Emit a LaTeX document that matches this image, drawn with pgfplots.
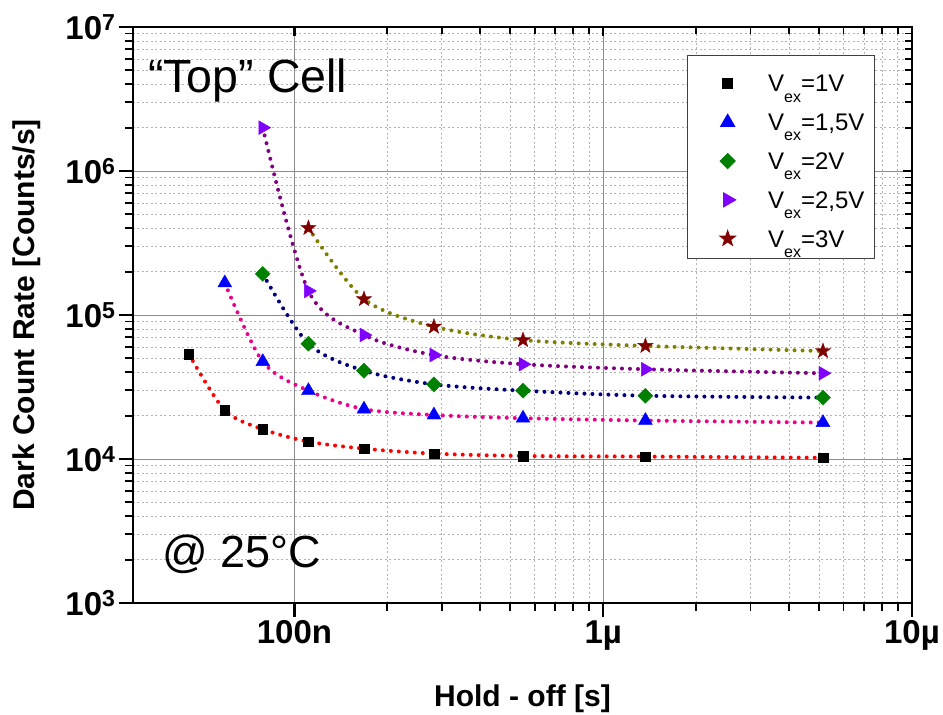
\documentclass[border=0pt]{standalone}
\usepackage{fontspec}
\setmainfont{Liberation Sans}
\usepackage{pgfplots}
\usepackage{pgfplotstable}
\pgfplotsset{compat=1.18}

\definecolor{cgreen}{HTML}{008000}
\definecolor{cvio}{HTML}{8000FF}
\definecolor{cdred}{HTML}{800000}
\definecolor{cnavy}{HTML}{000080}
\definecolor{cpurp}{HTML}{800080}
\definecolor{colive}{HTML}{808000}

\pgfdeclareplotmark{fstar}{%
  \pgfpathmoveto{\pgfpointpolar{90}{\pgfplotmarksize}}%
  \pgfpathlineto{\pgfpointpolar{126}{0.4\pgfplotmarksize}}%
  \pgfpathlineto{\pgfpointpolar{162}{\pgfplotmarksize}}%
  \pgfpathlineto{\pgfpointpolar{198}{0.4\pgfplotmarksize}}%
  \pgfpathlineto{\pgfpointpolar{234}{\pgfplotmarksize}}%
  \pgfpathlineto{\pgfpointpolar{270}{0.4\pgfplotmarksize}}%
  \pgfpathlineto{\pgfpointpolar{306}{\pgfplotmarksize}}%
  \pgfpathlineto{\pgfpointpolar{342}{0.4\pgfplotmarksize}}%
  \pgfpathlineto{\pgfpointpolar{18}{\pgfplotmarksize}}%
  \pgfpathlineto{\pgfpointpolar{54}{0.4\pgfplotmarksize}}%
  \pgfpathclose
  \pgfusepathqfillstroke
}

\newcommand{\Vex}[2]{\rule{0pt}{#1}V\raisebox{-0.42em}{\fontsize{16}{16}\selectfont ex}=#2}

\pgfplotsset{mylegend/.style={legend image code/.code={\path (0pt,0pt) (70pt,8.5pt); \draw[mark repeat=2,mark phase=2,##1] plot coordinates {(0pt,8.5pt)(30pt,8.5pt)(70pt,8.5pt)};}}}

\pgfplotstableread{
x y
4.55e-8 53600
5.95e-8 21800
7.9e-8 16100
1.11e-7 13200
1.68e-7 11800
2.83e-7 10900
5.5e-7 10500
1.37e-6 10400
5.15e-6 10200
}\dataA
\pgfplotstableread{
x y
5.95e-8 167000
7.9e-8 47400
1.11e-7 29800
1.68e-7 22200
2.83e-7 20200
5.5e-7 19200
1.37e-6 18500
5.15e-6 17900
}\dataB
\pgfplotstableread{
x y
7.9e-8 193000
1.11e-7 63200
1.68e-7 41000
2.83e-7 33000
5.5e-7 29800
1.37e-6 27500
5.15e-6 26700
}\dataC
\pgfplotstableread{
x y
7.9e-8 2000000
1.11e-7 147000
1.68e-7 72600
2.83e-7 52700
5.5e-7 45500
1.37e-6 42000
5.15e-6 39400
}\dataD
\pgfplotstableread{
x y
1.11e-7 402000
1.68e-7 129000
2.83e-7 83000
5.5e-7 67000
1.37e-6 61000
5.15e-6 56200
}\dataE

\begin{document}
\begin{tikzpicture}
\useasboundingbox (-133pt,-112pt) rectangle (810pt,603pt);
\begin{axis}[
  at={(0pt,0pt)}, anchor=south west,
  scale only axis, width=779pt, height=576pt,
  xmode=log, ymode=log,
  xmin=3e-8, xmax=1e-5, ymin=1e3, ymax=1e7,
  xtick={1e-7,1e-6,1e-5}, xticklabels={100n,1µ,10µ},
  ytick={1e3,1e4,1e5,1e6,1e7},
  yticklabels={10\textsuperscript{3},10\textsuperscript{4},10\textsuperscript{5},10\textsuperscript{6},10\textsuperscript{7}},
  tick pos=left, tick align=outside,
  major tick length=14pt, minor tick length=8pt,
  major tick style={line width=2.2pt, black},
  minor tick style={line width=1.8pt, black},
  axis line style={line width=2.6pt},
  grid=both,
  major grid style={black!45, line width=0.9pt},
  minor grid style={black!30, line width=0.8pt, dash pattern=on 2pt off 2.5pt},
  ticklabel style={font=\fontsize{33}{36}\selectfont\bfseries},
  xlabel={Hold - off [s]}, ylabel={Dark Count Rate [Counts/s]},
  label style={font=\fontsize{30}{34}\selectfont\bfseries},
  xlabel style={at={(axis description cs:0.5,-0.18)}, anchor=base},
  ylabel style={at={(axis description cs:-0.1258,0.5)}, anchor=base},
  legend style={at={(axis description cs:0.9525,0.9514)}, anchor=north east,
    draw=black!75, line width=1pt, fill=white,
    font=\fontsize{24}{28}\selectfont,
    inner xsep=10pt, inner ysep=1pt, row sep=0pt,
    nodes={inner sep=0pt, text depth=10.2pt}, cells={anchor=base west}},
]
\addplot[only marks, mark=square*, mark size=4.8pt, black, mylegend] table {\dataA};
\addlegendentry{\Vex{35.5pt}{1V}}
\addplot[only marks, mark=triangle*, mark size=8pt, blue, mylegend] table {\dataB};
\addlegendentry{\Vex{28.6pt}{1,5V}}
\addplot[only marks, mark=square*, mark size=5.3pt, mark options={rotate=45}, cgreen, mylegend] table {\dataC};
\addlegendentry{\Vex{28.6pt}{2V}}
\addplot[only marks, mark=triangle*, mark size=8pt, mark options={rotate=-90}, cvio, mylegend] table {\dataD};
\addlegendentry{\Vex{28.6pt}{2,5V}}
\addplot[only marks, mark=fstar, mark size=8pt, cdred, mylegend] table {\dataE};
\addlegendentry{\Vex{28.6pt}{3V}}

\addplot[forget plot, smooth, no marks, red, line width=4pt, line cap=round, dash pattern=on 0pt off 8pt] table {\dataA};
\addplot[forget plot, smooth, no marks, magenta, line width=4pt, line cap=round, dash pattern=on 0pt off 8pt] table {\dataB};
\addplot[forget plot, smooth, no marks, cnavy, line width=4pt, line cap=round, dash pattern=on 0pt off 8pt] table {\dataC};
\addplot[forget plot, smooth, no marks, cpurp, line width=4pt, line cap=round, dash pattern=on 0pt off 8pt] table {\dataD};
\addplot[forget plot, smooth, no marks, colive, line width=4pt, line cap=round, dash pattern=on 0pt off 8pt] table {\dataE};
\end{axis}
\begin{axis}[
  at={(0pt,0pt)}, anchor=south west,
  scale only axis, width=779pt, height=576pt,
  xmode=log, ymode=log,
  xmin=3e-8, xmax=1e-5, ymin=1e3, ymax=1e7,
  xtick={1e-7,1e-6,1e-5}, xticklabels={},
  ytick={1e3,1e4,1e5,1e6,1e7}, yticklabels={},
  tick pos=right, tick align=inside,
  major tick length=9pt, minor tick length=7pt,
  major tick style={line width=2.2pt, black},
  minor tick style={line width=1.8pt, black},
  axis line style={line width=2.6pt},
]
\end{axis}
\node[anchor=base west, inner sep=0pt, font=\fontsize{46.5}{50}\selectfont] at (15pt,510pt) {“Top” Cell};
\node[anchor=base west, inner sep=0pt, font=\fontsize{45}{48}\selectfont] at (29pt,35pt) {@ 25°C};
\end{tikzpicture}
\end{document}
